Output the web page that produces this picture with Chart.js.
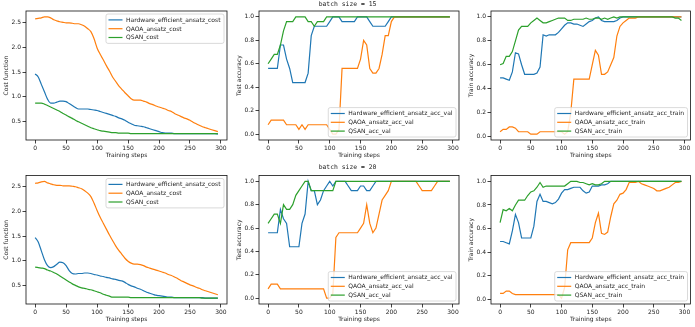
<!DOCTYPE html>
<html>
<head>
<meta charset="utf-8">
<script src="https://cdn.jsdelivr.net/npm/chart.js@4.4.0/dist/chart.umd.min.js"></script>
<style>
  body { margin: 0; background: #fff; }
  #fig { position: relative; width: 695px; height: 327px; }
  #fig canvas { position: absolute; left: 0; top: 0; }
</style>
</head>
<body>
<div id="fig">
  <canvas id="c1" width="695" height="327"></canvas>
  <canvas id="c2" width="695" height="327"></canvas>
  <canvas id="c3" width="695" height="327"></canvas>
  <canvas id="c4" width="695" height="327"></canvas>
  <canvas id="c5" width="695" height="327"></canvas>
  <canvas id="c6" width="695" height="327"></canvas>
</div>
<script>
// training steps (x axis)
const steps = [0,5,10,15,20,25,30,35,40,45,50,55,60,65,70,75,80,85,90,95,
  100,105,110,115,120,125,130,135,140,145,150,155,160,165,170,175,180,185,190,195,
  200,205,210,215,220,225,230,235,240,245,250,255,260,265,270,275,280,285,290,295];

const xTicks = [0, 50, 100, 150, 200, 250, 300];
const costTicks = [0.5, 1.0, 1.5, 2.0, 2.5];
const accTicks = [0.0, 0.2, 0.4, 0.6, 0.8, 1.0];

// batch size = 15
const hwCost15 = [1.46,1.40,1.25,1.10,0.95,0.87,0.87,0.89,0.91,0.91,
  0.90,0.86,0.82,0.78,0.75,0.75,0.75,0.75,0.74,0.73,
  0.72,0.70,0.68,0.66,0.64,0.62,0.60,0.57,0.55,0.52,
  0.48,0.45,0.42,0.41,0.40,0.39,0.37,0.35,0.33,0.31,
  0.29,0.27,0.26,0.26,0.26,0.25,0.25,0.25,0.25,0.25,
  0.25,0.25,0.25,0.25,0.25,0.25,0.25,0.25,0.25,0.24];
const qaoaCost15 = [2.58,2.59,2.60,2.62,2.62,2.60,2.56,2.54,2.52,2.51,
  2.50,2.50,2.49,2.48,2.48,2.46,2.43,2.38,2.32,2.18,
  1.99,1.86,1.75,1.63,1.52,1.40,1.31,1.22,1.15,1.08,
  1.02,0.96,0.93,0.93,0.93,0.91,0.89,0.86,0.84,0.81,
  0.79,0.77,0.75,0.72,0.70,0.66,0.63,0.60,0.57,0.55,
  0.52,0.48,0.45,0.42,0.39,0.37,0.35,0.33,0.31,0.29];
const qsanCost15 = [0.87,0.87,0.87,0.85,0.82,0.79,0.76,0.73,0.70,0.66,
  0.63,0.59,0.56,0.52,0.49,0.46,0.43,0.40,0.37,0.35,
  0.33,0.31,0.30,0.29,0.28,0.27,0.27,0.26,0.26,0.26,
  0.26,0.25,0.25,0.25,0.25,0.25,0.25,0.25,0.25,0.25,
  0.25,0.25,0.25,0.25,0.25,0.25,0.25,0.25,0.25,0.25,
  0.25,0.25,0.25,0.25,0.25,0.25,0.25,0.25,0.25,0.25];

const hwVal15 = [0.56,0.56,0.56,0.56,0.76,0.76,0.64,0.56,0.44,0.44,
  0.44,0.44,0.44,0.52,0.84,0.92,0.92,0.92,0.92,0.92,
  0.96,1.00,1.00,1.00,0.96,0.96,0.96,0.96,0.96,1.00,
  1.00,1.00,1.00,0.96,0.92,0.92,0.92,0.92,0.92,0.96,
  1.00,1.00,1.00,1.00,1.00,1.00,1.00,1.00,1.00,1.00,
  1.00,1.00,1.00,1.00,1.00,1.00,1.00,1.00,1.00,1.00];
const qaoaVal15 = [0.08,0.12,0.12,0.12,0.12,0.12,0.08,0.08,0.08,0.08,
  0.04,0.08,0.04,0.08,0.08,0.08,0.08,0.08,0.08,0.08,
  0.04,0.00,0.00,0.04,0.56,0.56,0.56,0.56,0.56,0.56,
  0.64,0.80,0.76,0.56,0.52,0.52,0.56,0.68,0.84,0.84,
  0.96,1.00,1.00,1.00,1.00,1.00,1.00,1.00,1.00,1.00,
  1.00,1.00,1.00,1.00,1.00,1.00,1.00,1.00,1.00,1.00];
const qsanVal15 = [0.60,0.64,0.68,0.68,0.76,0.88,0.96,0.96,0.96,1.00,
  1.00,1.00,1.00,0.96,0.96,0.92,0.96,0.96,0.96,1.00,
  1.00,1.00,1.00,1.00,1.00,1.00,1.00,1.00,1.00,1.00,
  1.00,1.00,1.00,1.00,1.00,1.00,1.00,1.00,1.00,1.00,
  1.00,1.00,1.00,1.00,1.00,1.00,1.00,1.00,1.00,1.00,
  1.00,1.00,1.00,1.00,1.00,1.00,1.00,1.00,1.00,1.00];

const hwTrain15 = [0.49,0.49,0.48,0.47,0.54,0.70,0.69,0.60,0.52,0.52,
  0.52,0.52,0.53,0.58,0.85,0.84,0.85,0.85,0.85,0.87,
  0.90,0.93,0.95,0.95,0.94,0.94,0.93,0.92,0.94,0.96,
  0.97,0.99,1.00,0.97,0.96,0.96,0.96,0.96,0.97,0.99,
  1.00,1.00,1.00,1.00,1.00,1.00,1.00,1.00,1.00,1.00,
  1.00,1.00,1.00,1.00,1.00,1.00,1.00,1.00,1.00,1.00];
const qaoaTrain15 = [0.04,0.06,0.06,0.08,0.08,0.07,0.04,0.04,0.04,0.04,
  0.02,0.02,0.02,0.04,0.04,0.04,0.04,0.04,0.04,0.04,
  0.04,0.02,0.04,0.20,0.48,0.48,0.48,0.48,0.48,0.48,
  0.60,0.72,0.68,0.52,0.52,0.54,0.60,0.66,0.84,0.92,
  0.95,0.97,0.99,0.99,0.99,1.00,1.00,1.00,1.00,1.00,
  1.00,1.00,1.00,1.00,1.00,1.00,1.00,1.00,1.00,1.00];
const qsanTrain15 = [0.60,0.61,0.67,0.67,0.71,0.80,0.89,0.92,0.92,0.92,
  0.95,0.97,0.99,0.97,0.95,0.95,0.96,0.97,0.98,0.99,
  0.99,0.99,0.97,0.97,0.98,0.98,0.98,0.98,0.99,0.98,
  0.98,0.99,0.99,0.98,0.99,0.98,0.99,1.00,0.99,1.00,
  1.00,1.00,1.00,1.00,1.00,1.00,1.00,1.00,1.00,1.00,
  1.00,1.00,1.00,1.00,1.00,1.00,1.00,0.99,0.99,0.97];

// batch size = 20
const hwCost20 = [1.47,1.38,1.20,1.02,0.90,0.86,0.88,0.93,0.97,0.96,
  0.90,0.80,0.74,0.73,0.74,0.74,0.75,0.75,0.74,0.72,
  0.71,0.69,0.68,0.66,0.65,0.63,0.62,0.60,0.59,0.56,
  0.52,0.49,0.47,0.44,0.42,0.39,0.36,0.34,0.32,0.30,
  0.29,0.28,0.27,0.26,0.26,0.25,0.25,0.25,0.25,0.25,
  0.25,0.25,0.25,0.25,0.25,0.24,0.24,0.24,0.24,0.24];
const qaoaCost20 = [2.57,2.58,2.60,2.61,2.58,2.56,2.54,2.53,2.53,2.52,
  2.52,2.52,2.51,2.50,2.48,2.46,2.42,2.37,2.30,2.17,
  2.02,1.88,1.76,1.64,1.52,1.41,1.30,1.21,1.13,1.05,
  0.99,0.95,0.93,0.93,0.92,0.90,0.87,0.85,0.83,0.81,
  0.79,0.77,0.75,0.72,0.70,0.67,0.64,0.60,0.57,0.54,
  0.51,0.49,0.46,0.44,0.41,0.39,0.37,0.35,0.33,0.31];
const qsanCost20 = [0.87,0.86,0.85,0.84,0.81,0.79,0.76,0.73,0.69,0.65,
  0.61,0.57,0.53,0.50,0.47,0.45,0.44,0.42,0.41,0.39,
  0.37,0.35,0.32,0.30,0.28,0.26,0.26,0.26,0.26,0.26,
  0.26,0.25,0.25,0.25,0.25,0.25,0.25,0.25,0.25,0.25,
  0.25,0.25,0.25,0.25,0.25,0.25,0.25,0.25,0.25,0.25,
  0.25,0.25,0.25,0.25,0.24,0.24,0.24,0.24,0.24,0.24];

const hwVal20 = [0.56,0.56,0.56,0.56,0.76,0.68,0.64,0.44,0.44,0.44,
  0.44,0.64,0.72,1.00,0.92,0.92,0.80,0.84,0.92,0.96,
  1.00,0.96,1.00,1.00,1.00,1.00,0.96,0.92,0.92,0.92,
  0.96,0.96,0.92,0.92,0.96,1.00,1.00,1.00,1.00,1.00,
  1.00,1.00,1.00,1.00,1.00,1.00,1.00,1.00,1.00,1.00,
  1.00,1.00,1.00,1.00,1.00,1.00,1.00,1.00,1.00,1.00];
const qaoaVal20 = [0.08,0.12,0.12,0.12,0.08,0.08,0.08,0.08,0.08,0.08,
  0.08,0.08,0.08,0.08,0.08,0.08,0.08,0.08,0.08,0.00,
  0.00,0.04,0.52,0.56,0.56,0.56,0.56,0.56,0.56,0.56,
  0.60,0.64,0.80,0.64,0.56,0.60,0.72,0.84,0.88,0.92,
  1.00,1.00,1.00,1.00,1.00,1.00,1.00,1.00,1.00,0.96,
  0.92,0.92,0.92,0.92,0.96,1.00,1.00,1.00,1.00,1.00];
const qsanVal20 = [0.64,0.68,0.72,0.72,0.64,0.80,0.76,0.76,0.80,0.88,
  0.92,0.96,1.00,1.00,0.92,0.92,0.92,0.92,0.92,0.92,
  0.92,0.92,1.00,1.00,1.00,1.00,1.00,1.00,1.00,1.00,
  1.00,1.00,1.00,1.00,1.00,1.00,1.00,1.00,1.00,1.00,
  1.00,1.00,1.00,1.00,1.00,1.00,1.00,1.00,1.00,1.00,
  1.00,1.00,1.00,1.00,1.00,1.00,1.00,1.00,1.00,1.00];

const hwTrain20 = [0.49,0.49,0.48,0.47,0.58,0.72,0.65,0.52,0.52,0.52,
  0.52,0.62,0.83,0.89,0.83,0.83,0.82,0.81,0.82,0.85,
  0.90,0.93,0.93,0.94,0.95,0.95,0.95,0.92,0.90,0.91,
  0.96,0.96,0.96,0.97,0.97,0.98,1.00,1.00,1.00,1.00,
  1.00,1.00,1.00,1.00,1.00,1.00,1.00,1.00,1.00,1.00,
  1.00,1.00,1.00,1.00,1.00,1.00,1.00,1.00,1.00,1.00];
const qaoaTrain20 = [0.05,0.05,0.07,0.07,0.05,0.04,0.04,0.04,0.04,0.04,
  0.04,0.04,0.04,0.04,0.04,0.04,0.04,0.04,0.04,0.04,
  0.01,0.10,0.42,0.48,0.48,0.48,0.48,0.48,0.48,0.48,
  0.52,0.65,0.73,0.56,0.55,0.57,0.70,0.81,0.84,0.89,
  0.90,0.93,0.99,0.99,0.99,1.00,0.98,0.97,0.96,0.95,
  0.94,0.92,0.92,0.93,0.94,0.95,0.97,0.99,0.99,1.00];
const qsanTrain20 = [0.65,0.76,0.75,0.77,0.75,0.80,0.84,0.84,0.84,0.88,
  0.91,0.92,0.95,0.99,0.95,0.96,0.96,0.96,0.96,0.96,
  0.96,0.96,0.98,1.00,1.00,1.00,0.99,0.99,0.98,0.97,
  0.98,0.97,0.97,0.98,1.00,1.00,1.00,1.00,1.00,1.00,
  1.00,1.00,1.00,1.00,1.00,1.00,1.00,1.00,1.00,1.00,
  1.00,1.00,1.00,1.00,1.00,1.00,1.00,1.00,1.00,1.00];

const colores = ['#1f77b4', '#ff7f0e', '#2ca02c'];
const FONT = '"DejaVu Sans", sans-serif';

Chart.defaults.font.family = FONT;
Chart.defaults.font.size = 6;
Chart.defaults.color = '#222';

// marco de los ejes, leyenda estilo matplotlib y titulo de fila
const decoPlugin = {
    id: 'deco',
    afterDatasetsDraw(chart, args, opts) {
        const ctx = chart.ctx;
        const a = chart.chartArea;
        ctx.save();
        ctx.strokeStyle = '#111';
        ctx.lineWidth = 0.8;
        ctx.strokeRect(a.left, a.top, a.right - a.left, a.bottom - a.top);

        // leyenda
        ctx.font = '6px ' + FONT;
        const items = chart.data.datasets;
        const textW = Math.max(...items.map(d => ctx.measureText(d.label).width));
        const pad = 2.5, handle = 14, gap = 3.5, rowH = 8.8;
        const w = pad + handle + gap + textW + pad + 1;
        const h = rowH * items.length + 3;
        const x = a.right - 3 - w;
        const y = opts.loc === 'upper right' ? a.top + 3 : a.bottom - 3 - h;
        ctx.beginPath();
        ctx.roundRect(x, y, w, h, 2);
        ctx.fillStyle = 'rgba(255,255,255,0.8)';
        ctx.fill();
        ctx.strokeStyle = 'rgba(204,204,204,0.9)';
        ctx.lineWidth = 0.8;
        ctx.stroke();
        items.forEach((d, i) => {
            const cy = y + 1.5 + rowH * (i + 0.5);
            ctx.beginPath();
            ctx.moveTo(x + pad, cy);
            ctx.lineTo(x + pad + handle, cy);
            ctx.strokeStyle = d.borderColor;
            ctx.lineWidth = 1.2;
            ctx.stroke();
            ctx.fillStyle = '#222';
            ctx.textBaseline = 'middle';
            ctx.textAlign = 'left';
            ctx.fillText(d.label, x + pad + handle + gap, cy + 0.3);
        });

        if (opts.title) {
            ctx.font = '6.4px "DejaVu Sans Mono", monospace';
            ctx.fillStyle = '#222';
            ctx.textAlign = 'center';
            ctx.textBaseline = 'middle';
            ctx.fillText(opts.title, 347.5, opts.titleY);
        }
        ctx.restore();
    }
};

function crearGrafico(id, panel) {
    const [left, top, right, bottom] = panel.box;
    const all = panel.series.flat();
    const lo = Math.min(...all), hi = Math.max(...all);
    const m = (hi - lo) * 0.05;

    const datasets = panel.series.map((serie, i) => ({
        label: panel.names[i],
        data: serie,
        borderColor: colores[i],
        backgroundColor: colores[i],
        borderWidth: 1.2,
        pointRadius: 0,
        fill: false,
        order: 3 - i,
        tension: 0,
        cubicInterpolationMode: panel.smooth ? 'monotone' : 'default'
    }));

    return new Chart(document.getElementById(id), {
        type: 'line',
        data: { labels: steps, datasets: datasets },
        options: {
            responsive: false,
            animation: false,
            devicePixelRatio: 1,
            layout: {
                padding: { left: left - 26, top: top, right: 695 - right, bottom: 327 - bottom - 20 }
            },
            plugins: {
                legend: { display: false },
                tooltip: { enabled: false },
                deco: { loc: panel.legend, title: panel.title, titleY: panel.titleY }
            },
            scales: {
                x: {
                    type: 'linear',
                    min: -14.75,
                    max: 309.75,
                    afterBuildTicks: s => { s.ticks = xTicks.map(v => ({ value: v })); },
                    afterFit: s => { s.height = 20; },
                    ticks: { padding: 1, maxRotation: 0, callback: v => String(v) },
                    grid: { drawOnChartArea: false, tickLength: 3.5, tickWidth: 0.8, tickColor: '#111' },
                    border: { display: false },
                    title: { display: true, text: 'Training steps', padding: { top: 0, bottom: 1 } }
                },
                y: {
                    type: 'linear',
                    min: lo - m,
                    max: hi + m,
                    afterBuildTicks: s => { s.ticks = panel.yTicks.map(v => ({ value: v })); },
                    afterFit: s => { s.width = 26; },
                    ticks: { padding: 1.5, callback: v => v.toFixed(1) },
                    grid: { drawOnChartArea: false, tickLength: 3.5, tickWidth: 0.8, tickColor: '#111' },
                    border: { display: false },
                    title: { display: true, text: panel.yTitle, padding: { top: 3, bottom: 0 } }
                }
            }
        },
        plugins: [decoPlugin]
    });
}

const costNames = ['Hardware_efficient_ansatz_cost', 'QAOA_ansatz_cost', 'QSAN_cost'];
const valNames = ['Hardware_efficient_ansatz_acc_val', 'QAOA_ansatz_acc_val', 'QSAN_acc_val'];
const trainNames = ['Hardware_efficient_ansatz_acc_train', 'QAOA_ansatz_acc_train', 'QSAN_acc_train'];

crearGrafico('c1', { box: [26, 11, 227, 140], series: [hwCost15, qaoaCost15, qsanCost15], names: costNames,
    yTitle: 'Cost function', yTicks: costTicks, smooth: true, legend: 'upper right' });
crearGrafico('c2', { box: [259, 11, 459, 140], series: [hwVal15, qaoaVal15, qsanVal15], names: valNames,
    yTitle: 'Test accuracy', yTicks: accTicks, smooth: false, legend: 'lower right',
    title: 'batch size = 15', titleY: 4 });
crearGrafico('c3', { box: [491, 11, 690.5, 140], series: [hwTrain15, qaoaTrain15, qsanTrain15], names: trainNames,
    yTitle: 'Train accuracy', yTicks: accTicks, smooth: false, legend: 'lower right' });
crearGrafico('c4', { box: [26, 175.5, 227, 304], series: [hwCost20, qaoaCost20, qsanCost20], names: costNames,
    yTitle: 'Cost function', yTicks: costTicks, smooth: true, legend: 'upper right' });
crearGrafico('c5', { box: [259, 175.5, 459, 304], series: [hwVal20, qaoaVal20, qsanVal20], names: valNames,
    yTitle: 'Test accuracy', yTicks: accTicks, smooth: false, legend: 'lower right',
    title: 'batch size = 20', titleY: 167 });
crearGrafico('c6', { box: [491, 175.5, 690.5, 304], series: [hwTrain20, qaoaTrain20, qsanTrain20], names: trainNames,
    yTitle: 'Train accuracy', yTicks: accTicks, smooth: false, legend: 'lower right' });
</script>
</body>
</html>
